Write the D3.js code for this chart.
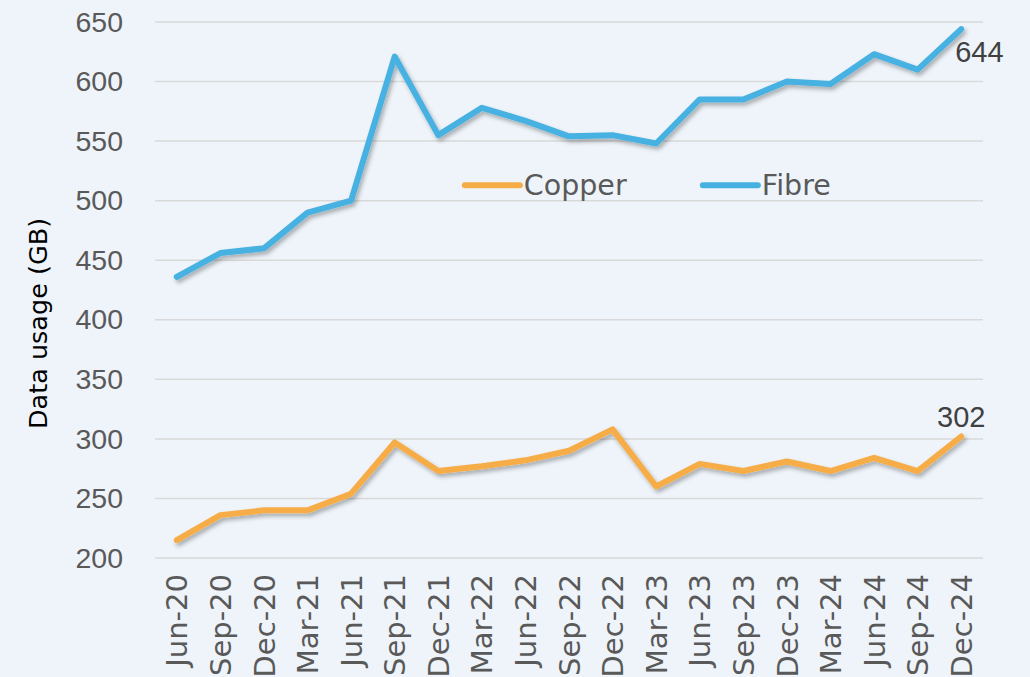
<!DOCTYPE html>
<html>
<head>
<meta charset="utf-8">
<script src="https://cdn.jsdelivr.net/npm/d3@7"></script>
<style>
  body { margin: 0; background: #eef4fa; }
  svg { display: block; font-family: "Liberation Sans", Arial, sans-serif; }
  .tick text { fill: #595959; }
</style>
</head>
<body>
<div id="chart"></div>
<script>
var svgWidth = 1030;
var svgHeight = 677;

var margin = { top: 22, right: 47, bottom: 119, left: 155 };

var chartWidth = svgWidth - margin.left - margin.right;
var chartHeight = svgHeight - margin.top - margin.bottom;

// quarters
var quarters = ["Jun-20", "Sep-20", "Dec-20", "Mar-21", "Jun-21", "Sep-21", "Dec-21",
  "Mar-22", "Jun-22", "Sep-22", "Dec-22", "Mar-23", "Jun-23", "Sep-23", "Dec-23",
  "Mar-24", "Jun-24", "Sep-24", "Dec-24"];
var copper = [215, 236, 240, 240, 254, 297, 273, 277, 282, 290, 308, 260, 279, 273, 281, 273, 284, 273, 302];
var fibre = [436, 456, 460, 490, 500, 621, 555, 578, 567, 554, 555, 548, 585, 585, 600, 598, 623, 610, 644];
var yTicks = [200, 250, 300, 350, 400, 450, 500, 550, 600, 650];

var series = [
  { name: "Copper", values: copper, color: "#f6ad47" },
  { name: "Fibre", values: fibre, color: "#46b1e1" }
];

var svg = d3.select("#chart")
  .append("svg")
  .attr("width", svgWidth)
  .attr("height", svgHeight);

svg.append("rect").attr("width", svgWidth).attr("height", svgHeight).attr("fill", "#eef4fa");

var defs = svg.append("defs");
defs.append("filter")
  .attr("id", "shadow")
  .attr("x", "-10%").attr("y", "-10%").attr("width", "120%").attr("height", "130%")
  .append("feDropShadow")
  .attr("dx", 2).attr("dy", 3)
  .attr("stdDeviation", 2)
  .attr("flood-color", "#000")
  .attr("flood-opacity", 0.3);

var chartGroup = svg.append("g")
  .attr("transform", `translate(${margin.left},${margin.top})`);

var xScale = d3.scalePoint()
  .domain(quarters)
  .range([0, chartWidth])
  .padding(0.5);

var yScale = d3.scaleLinear()
  .domain([200, 650])
  .range([chartHeight, 0]);

// gridlines
chartGroup.append("g")
  .selectAll("line")
  .data(yTicks)
  .enter()
  .append("line")
  .attr("x1", 0)
  .attr("x2", chartWidth)
  .attr("y1", d => yScale(d))
  .attr("y2", d => yScale(d))
  .attr("stroke", "#d9d9d9")
  .attr("stroke-width", 1.5);

var yAxis = d3.axisLeft(yScale).tickValues(yTicks).tickSize(0).tickPadding(32);
chartGroup.append("g").call(yAxis)
  .call(g => g.select(".domain").remove())
  .selectAll("text")
  .attr("font-size", 28.5)
  .attr("font-family", "Liberation Sans, Arial, sans-serif");

var xAxis = d3.axisBottom(xScale).tickSize(0);
chartGroup.append("g")
  .attr("transform", `translate(0,${chartHeight})`)
  .call(xAxis)
  .call(g => g.select(".domain").remove())
  .selectAll("text")
  .attr("font-size", 29)
  .attr("font-family", "DejaVu Sans, sans-serif")
  .attr("text-anchor", "end")
  .attr("transform", "rotate(-90)")
  .attr("x", -16)
  .attr("y", 0)
  .attr("dy", "0.35em");

// y title
chartGroup.append("text")
  .attr("transform", "rotate(-90)")
  .attr("x", -301.5)
  .attr("y", -108)
  .attr("text-anchor", "middle")
  .attr("font-size", 25.5)
  .attr("fill", "#000")
  .attr("font-family", "DejaVu Sans, sans-serif")
  .text("Data usage (GB)");

var line = d3.line()
  .x((d, i) => xScale(quarters[i]))
  .y(d => yScale(d));

chartGroup.selectAll(".series")
  .data(series)
  .enter()
  .append("path")
  .attr("class", "series")
  .attr("d", d => line(d.values))
  .attr("fill", "none")
  .attr("stroke", d => d.color)
  .attr("stroke-width", 6)
  .attr("stroke-linejoin", "round")
  .attr("stroke-linecap", "round")
  .attr("filter", "url(#shadow)");

// end labels
var last = quarters.length - 1;
chartGroup.append("text")
  .attr("x", xScale(quarters[last]) - 6)
  .attr("y", yScale(fibre[last]) + 33)
  .attr("font-size", 29)
  .attr("fill", "#404040")
  .text(fibre[last]);

chartGroup.append("text")
  .attr("x", xScale(quarters[last]))
  .attr("y", yScale(copper[last]) - 10)
  .attr("text-anchor", "middle")
  .attr("font-size", 29)
  .attr("fill", "#404040")
  .text(copper[last]);

// legend
var legend = chartGroup.append("g")
  .attr("transform", `translate(${xScale(quarters[7]) - 17},${yScale(513)})`);

var legendItems = legend.selectAll("g")
  .data(series)
  .enter()
  .append("g")
  .attr("transform", (d, i) => `translate(${i * 238},0)`);

legendItems.append("line")
  .attr("x1", 0).attr("x2", 55)
  .attr("stroke", d => d.color)
  .attr("stroke-width", 6)
  .attr("stroke-linecap", "round");

legendItems.append("text")
  .attr("x", 59)
  .attr("dy", "0.35em")
  .attr("font-size", 28.5)
  .attr("font-family", "DejaVu Sans, sans-serif")
  .attr("fill", "#595959")
  .text(d => d.name);
</script>
</body>
</html>
